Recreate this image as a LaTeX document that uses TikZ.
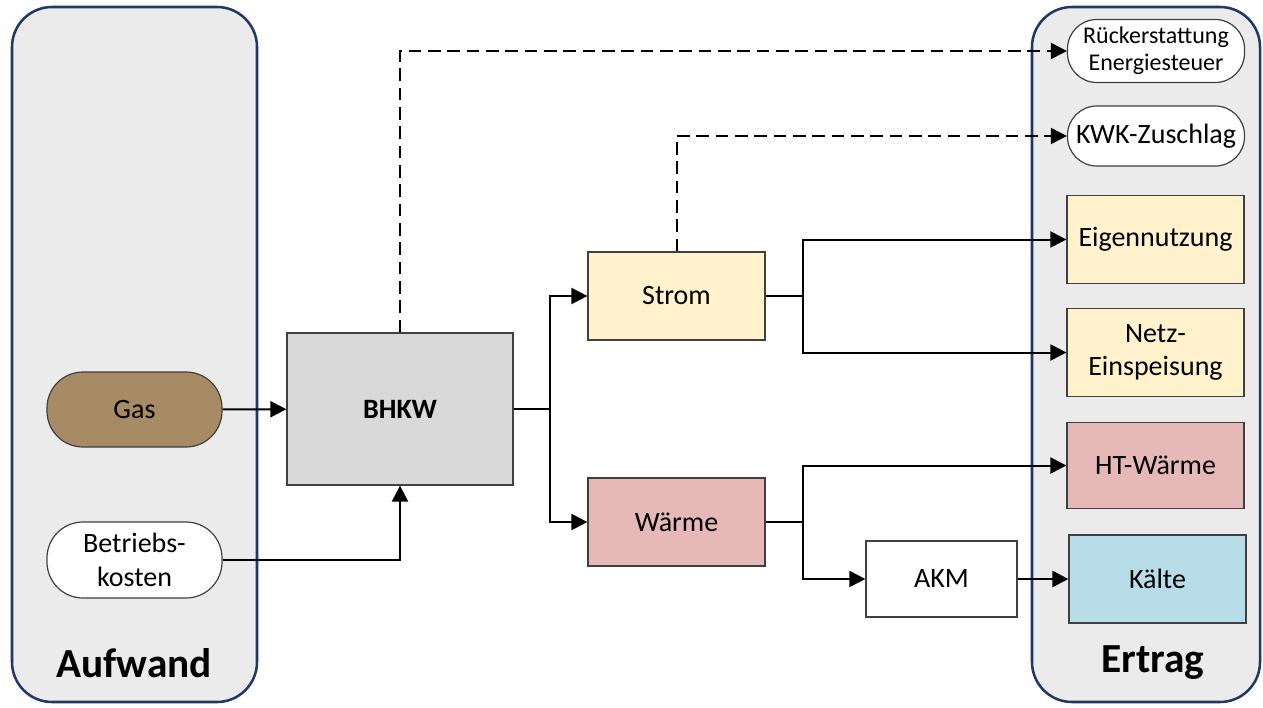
\documentclass[tikz,border=0pt]{standalone}
\usepackage{fontspec}
\setmainfont{Carlito}
\usetikzlibrary{arrows.meta}
\definecolor{contfill}{HTML}{EBEBEB}
\definecolor{contline}{HTML}{1F3864}
\definecolor{gasfill}{HTML}{A68B64}
\definecolor{yel}{HTML}{FFF2CC}
\definecolor{rose}{HTML}{E6B8B7}
\definecolor{cold}{HTML}{B7DDE8}
\definecolor{grayb}{HTML}{D9D9D9}
\definecolor{edge}{HTML}{404040}
\begin{document}
\begin{tikzpicture}[x=0.75pt,y=-0.75pt,
  container/.style={draw=contline,fill=contfill,line width=1.9pt,rounded corners=30pt},
  boxstyle/.style={draw=edge,line width=0.9pt,align=center,inner sep=0pt,
     font=\fontsize{21}{25}\selectfont},
  pill/.style={boxstyle,rounded corners=22pt},
  conn/.style={line width=1.5pt,black},
  arr/.style={conn,-{Triangle[length=12pt,width=12pt]}},
  darr/.style={arr,dash pattern=on 9.5pt off 5pt},
  title/.style={font=\fontsize{31}{36}\selectfont\bfseries}]
\useasboundingbox (0,0) rectangle (1263,707);
\fill[white] (0,0) rectangle (1263,707);
% containers
\draw[container] (12,7) rectangle (257,702);
\draw[container] (1032,7) rectangle (1260,702);
\node[title] (aufwand) at (134,663) {Aufwand};
\node[title] (ertrag) at (1153,663) {Ertrag};
% left nodes
\node[pill,fill=gasfill,minimum width=131.25pt,minimum height=56.25pt,rounded corners=27pt] (gas) at (134.5,409.5) {Gas};
\node[pill,fill=white,minimum width=131.25pt,minimum height=57pt,rounded corners=27pt] (bk) at (134.5,560) {Betriebs-\\kosten};
\node[boxstyle,fill=grayb,minimum width=169.5pt,minimum height=114pt,font=\fontsize{21}{25}\selectfont\bfseries] (bhkw) at (400,409) {BHKW};
% middle nodes
\node[boxstyle,fill=yel,minimum width=132.75pt,minimum height=66pt] (strom) at (676.5,296) {Strom};
\node[boxstyle,fill=rose,minimum width=132.75pt,minimum height=66pt] (waerme) at (676.5,522) {Wärme};
\node[boxstyle,fill=white,minimum width=113.25pt,minimum height=57pt] (akm) at (941.5,579) {AKM};
% right nodes
\node[pill,fill=white,minimum width=132.75pt,minimum height=47.25pt,font=\fontsize{18}{20.5}\selectfont] (rueck) at (1156,51) {Rückerstattung\\Energiesteuer};
\node[pill,fill=white,minimum width=132.75pt,minimum height=45pt] (kwk) at (1156,136) {KWK-Zuschlag};
\node[boxstyle,fill=yel,minimum width=132.75pt,minimum height=66pt] (eigen) at (1155.5,239.5) {Eigennutzung};
\node[boxstyle,fill=yel,minimum width=132.75pt,minimum height=66pt] (netz) at (1155.5,352.5) {Netz-\\Einspeisung};
\node[boxstyle,fill=rose,minimum width=132.75pt,minimum height=65pt] (ht) at (1155.5,465.5) {HT-Wärme};
\node[boxstyle,fill=cold,minimum width=132.75pt,minimum height=66pt] (kaelte) at (1157.5,579) {Kälte};
% junctions
\coordinate (j1) at (550,409);
\coordinate (j2) at (803,296);
\coordinate (j3) at (803,522);
% connectors
\draw[arr] (gas) -- (bhkw);
\draw[arr] (bk.east) -| (bhkw.south);
\draw[darr] (bhkw.north) |- (rueck.west);
\draw[darr] (strom.north) |- (kwk.west);
\draw[conn] (bhkw.east) -- (j1);
\draw[arr] (j1) |- (strom.west);
\draw[arr] (j1) |- (waerme.west);
\draw[conn] (strom.east) -- (j2);
\draw[arr] (j2) |- (eigen.west);
\draw[arr] (j2) |- (netz.west);
\draw[conn] (waerme.east) -- (j3);
\draw[arr] (j3) |- (ht.west);
\draw[arr] (j3) |- (akm.west);
\draw[arr] (akm) -- (kaelte);
\end{tikzpicture}
\end{document}
